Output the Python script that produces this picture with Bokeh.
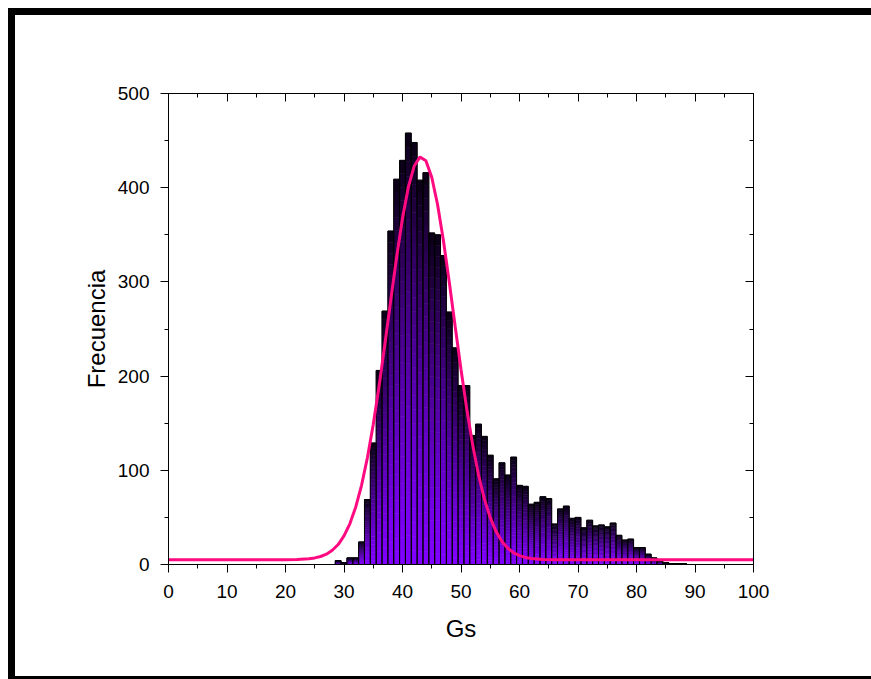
from bokeh.plotting import figure
from bokeh.models import LinearAxis, SingleIntervalTicker, Div, Spacer, CustomJSTickFormatter
from bokeh.layouts import column, row
from bokeh.embed import file_html
from bokeh.resources import INLINE

# ---- data ----
gs_bins = list(range(29, 90))
frecuencia = [4, 2, 7, 7, 24, 69, 129, 206, 269, 354,
              409, 429, 458, 448, 408, 416, 352, 350, 328, 268,
              230, 190, 190, 137, 149, 136, 116, 91, 108, 95,
              114, 84, 83, 64, 66, 72, 70, 43, 59, 62,
              49, 50, 39, 47, 41, 42, 40, 44, 31, 26,
              27, 18, 18, 11, 7, 4, 2, 1, 1, 1, 0]

fit_x = [0, 10, 20, 22, 24, 25, 26, 27, 28, 29, 30, 31, 32, 33, 34, 35, 36, 37, 38,
         39, 40, 41, 42, 43, 44, 45, 46, 47, 48, 49, 50, 51, 52, 53, 54, 55, 56,
         57, 58, 59, 60, 61, 62, 64, 66, 70, 80, 90, 100]
fit_y = [5.0, 5.0, 5.1, 5.3, 6.1, 7.0, 8.5, 11.0, 15.1, 21.2, 30.3, 43.2, 60.9, 84.1,
         113.3, 148.6, 189.5, 234.3, 280.9, 326.4, 367.5, 400.6, 423.1, 432.7, 428.6,
         411.1, 381.9, 343.6, 299.5, 252.9, 207.0, 164.4, 126.8, 95.0, 69.4, 49.7,
         34.9, 24.4, 17.2, 12.4, 9.4, 7.5, 6.4, 5.4, 5.1, 5.0, 5.0, 5.0, 5.0]

x_tick_interval = 10
y_tick_interval = 100

# ---- figure ----
PW, PH = 856, 661
p = figure(frame_width=585, frame_height=471,
           min_border_left=153, min_border_top=78,
           min_border_right=118, min_border_bottom=112,
           x_range=(0, 100), y_range=(0, 500),
           output_backend="svg", toolbar_location=None,
           background_fill_color="white", border_fill_color="white")
p.xgrid.visible = False
p.ygrid.visible = False
p.outline_line_color = "black"
p.outline_line_width = 1

# gradient bars: each bar split into slices, violet at bottom -> black at top
K = 30
c_bot = (128, 0, 255)
c_top = (10, 0, 20)
xs, bots, tops, cols = [], [], [], []
for c, h in zip(gs_bins, frecuencia):
    if h <= 0:
        continue
    for j in range(K):
        t = ((j + 0.5) / K) ** 1.25
        rgb = tuple(int(round(c_bot[i] + (c_top[i] - c_bot[i]) * t)) for i in range(3))
        xs.append(c)
        bots.append(h * j / K)
        tops.append(h * (j + 1) / K)
        cols.append("#%02x%02x%02x" % rgb)
p.vbar(x=xs, bottom=bots, top=tops, width=1, fill_color=cols, line_color=cols, line_width=0.6)
p.vbar(x=gs_bins, top=frecuencia, width=1, fill_color=None, line_color="black", line_width=1)

p.line(fit_x, fit_y, line_color="#FF0A80", line_width=3)

FONT = "Liberation Sans"

def style_axis(ax, outward, labels):
    ax.axis_line_color = "black"
    ax.axis_line_width = 1
    ax.major_tick_line_color = "black"
    ax.minor_tick_line_color = "black"
    ax.major_tick_line_width = 1
    ax.minor_tick_line_width = 1
    if outward:
        ax.major_tick_out, ax.major_tick_in = 8, 0
        ax.minor_tick_out, ax.minor_tick_in = 4, 0
    else:
        ax.major_tick_out, ax.major_tick_in = 0, 8
        ax.minor_tick_out, ax.minor_tick_in = 0, 4
    ax.major_label_text_font = FONT
    ax.major_label_text_color = "black"
    ax.major_label_text_font_size = "19px"
    if not labels:
        ax.formatter = CustomJSTickFormatter(code="return ''")
        ax.major_label_standoff = 0
    ax.axis_label_text_font = FONT
    ax.axis_label_text_font_size = "24px"
    ax.axis_label_text_font_style = "normal"
    ax.axis_label_text_color = "black"

xb = p.xaxis[0]
xb.ticker = SingleIntervalTicker(interval=x_tick_interval, num_minor_ticks=2)
xb.axis_label = "Gs"
style_axis(xb, True, True)
xb.major_label_standoff = 12
xb.axis_label_standoff = 14

yl = p.yaxis[0]
yl.ticker = SingleIntervalTicker(interval=y_tick_interval, num_minor_ticks=2)
yl.axis_label = "Frecuencia"
style_axis(yl, True, True)
yl.major_label_standoff = 11
yl.axis_label_standoff = 5

xt = LinearAxis(ticker=SingleIntervalTicker(interval=x_tick_interval, num_minor_ticks=2))
style_axis(xt, False, False)
p.add_layout(xt, "above")

yr = LinearAxis(ticker=SingleIntervalTicker(interval=y_tick_interval, num_minor_ticks=2))
style_axis(yr, False, False)
p.add_layout(yr, "right")

# outer picture border (thick top/left, thin bottom)
BLACK = {"background-color": "black"}
top_bar = Div(text="", width=PW + 7, height=7, styles=BLACK, margin=0)
left_bar = Div(text="", width=7, height=PH, styles=BLACK, margin=0)
bottom_bar = Div(text="", width=PW + 7, height=3, styles=BLACK, margin=0)
inner = column(top_bar, row(left_bar, p, spacing=0), bottom_bar, spacing=0)
layout = column(Spacer(width=8, height=8, margin=0),
                row(Spacer(width=8, height=8, margin=0), inner, spacing=0),
                spacing=0)

open("out.html", "w").write(file_html(layout, INLINE))
